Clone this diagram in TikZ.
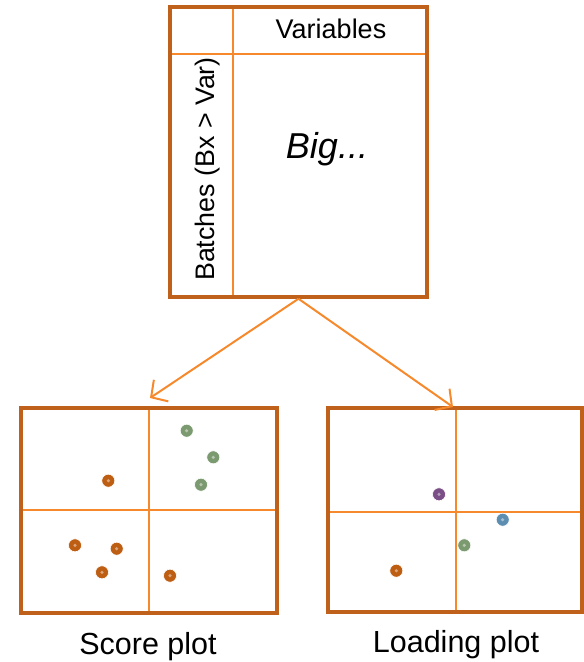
\documentclass[tikz,border=0pt]{standalone}
\usepackage{fontspec}
\setmainfont{Liberation Sans}
\usetikzlibrary{arrows.meta}
\definecolor{boxbrown}{HTML}{C0611B}
\definecolor{lineorange}{HTML}{F5892C}
\definecolor{dotorange}{HTML}{BE5E12}
\definecolor{dotgreen}{HTML}{7C9A70}
\definecolor{dotpurple}{HTML}{7A4E86}
\definecolor{dotblue}{HTML}{5C8EB2}
\tikzset{
  framebox/.style={draw=boxbrown, line width=3.5pt, inner sep=0pt, fill=none},
  divider/.style={draw=lineorange, line width=1.8pt},
  conn/.style={draw=lineorange, line width=2pt, -{Straight Barb[length=12pt,width=26pt,line width=2pt]}},
  dot/.style={circle, inner sep=0pt, minimum size=13pt, fill=#1, draw=white, line width=0.6pt},
  core/.style={circle, inner sep=0pt, minimum size=3.5pt, fill=white, opacity=0.45},
  lbl/.style={font=\fontsize{30.5}{33}\selectfont, inner sep=0pt, anchor=base},
}
\begin{document}
\begin{tikzpicture}[x=1pt,y=-1pt]
\useasboundingbox (0,0) rectangle (584,662);
% dividers (under frames)
\draw[divider] (233,7) -- (233,297);
\draw[divider] (170,54) -- (427,54);
\draw[divider] (149,408) -- (149,613);
\draw[divider] (21,510) -- (277,510);
\draw[divider] (456,408) -- (456,612);
\draw[divider] (328,512) -- (582,512);
% frames
\node[framebox, minimum width=257pt, minimum height=290pt] (mat) at (298.5,152) {};
\node[framebox, minimum width=256pt, minimum height=205pt] (score) at (149,510.5) {};
\node[framebox, minimum width=254pt, minimum height=204pt] (load) at (455,510) {};
% texts
\node[font=\fontsize{27}{29}\selectfont, inner sep=0pt] (var) at (331,29) {Variables};
\node[font=\fontsize{26.8}{29}\selectfont, inner sep=0pt, rotate=90] (bat) at (208,169) {Batches (Bx > Var)};
\node[font=\fontsize{36}{40}\selectfont\itshape, inner sep=0pt] (big) at (327,149) {Big...};
\node[lbl] (slabel) at (148,654) {Score plot};
\node[lbl] (llabel) at (456,652) {Loading plot};
% connectors
\coordinate (sin) at (150,398);
\coordinate (lin) at (453,407);
\draw[conn] (mat.south) -- (sin);
\draw[conn] (mat.south) -- (lin);
% dots
\foreach \n/\x/\y/\c in {g1/186.7/430.7/dotgreen, g2/213.3/457.3/dotgreen, g3/201/484.7/dotgreen,
  o1/108.3/480.7/dotorange, o2/75/545.3/dotorange, o3/116.7/548.7/dotorange, o4/102/572.3/dotorange, o5/170/575.7/dotorange,
  p1/439/494.3/dotpurple, b1/502.7/519.7/dotblue, g4/464.3/545.3/dotgreen, o6/396.3/570.7/dotorange}{
  \node[dot=\c] (\n) at (\x,\y) {};
  \node[core] at (\n) {};
}
\end{tikzpicture}
\end{document}
